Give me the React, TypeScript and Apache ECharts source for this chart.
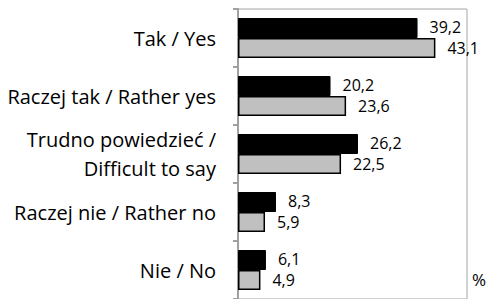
import React, { useEffect, useRef } from "react";
import * as echarts from "echarts";

const categories = [
  "Tak / Yes",
  "Raczej tak / Rather yes",
  "Trudno powiedzieć /\nDifficult to say",
  "Raczej nie / Rather no",
  "Nie / No",
];
const seriesA = [39.2, 20.2, 26.2, 8.3, 6.1];
const seriesB = [43.1, 23.6, 22.5, 5.9, 4.9];
const xMax = 50;
const unitLabel = "%";

const FONT = "Open Sans";

export default function App() {
  const ref = useRef<HTMLDivElement>(null);
  useEffect(() => {
    if (!ref.current) return;
    const chart = echarts.init(ref.current, null, { renderer: "svg" });
    const fmt = (p: any) => String(p.value).replace(".", ",");
    const valueLabel = (dy: number) => ({
      show: true,
      position: "right",
      distance: 12,
      offset: [0, dy],
      formatter: fmt,
      fontFamily: FONT,
      fontSize: 16,
      lineHeight: 18,
      color: "#000",
    });
    chart.setOption({
      animation: false,
      backgroundColor: "#ffffff",
      grid: {
        left: 238,
        right: 21,
        top: 9,
        bottom: 0,
        show: true,
        borderColor: "#a6a6a6",
        borderWidth: 1,
        containLabel: false,
      },
      xAxis: {
        type: "value",
        min: 0,
        max: xMax,
        interval: xMax,
        axisLabel: { show: false },
        axisLine: { show: false },
        axisTick: { show: false },
        splitLine: { show: false },
      },
      yAxis: {
        type: "category",
        data: categories,
        inverse: true,
        axisLine: { show: true, lineStyle: { color: "#a0a0a0", width: 2 } },
        axisTick: { show: true, length: 5, lineStyle: { color: "#a0a0a0", width: 2 } },
        axisLabel: {
          color: "#000",
          fontFamily: FONT,
          fontSize: 20,
          lineHeight: 29,
          margin: 22,
          align: "right",
        },
      },
      graphic: [
        {
          type: "text",
          left: 472,
          top: 271,
          style: { text: unitLabel, fontFamily: FONT, fontSize: 17, fill: "#000" },
        },
      ],
      series: [
        {
          type: "bar",
          data: seriesA,
          barWidth: 20,
          barGap: "0%",
          itemStyle: { color: "#000000", borderColor: "#000", borderWidth: 1 },
          label: valueLabel(-1),
        },
        {
          type: "bar",
          data: seriesB,
          barWidth: 20,
          barGap: "0%",
          itemStyle: { color: "#c0c0c0", borderColor: "#000", borderWidth: 1.5 },
          label: valueLabel(0),
        },
      ],
    });
    return () => chart.dispose();
  }, []);
  return (
    <div
      ref={ref}
      style={{ position: "fixed", left: 0, top: 0, width: 488, height: 299 }}
    />
  );
}
